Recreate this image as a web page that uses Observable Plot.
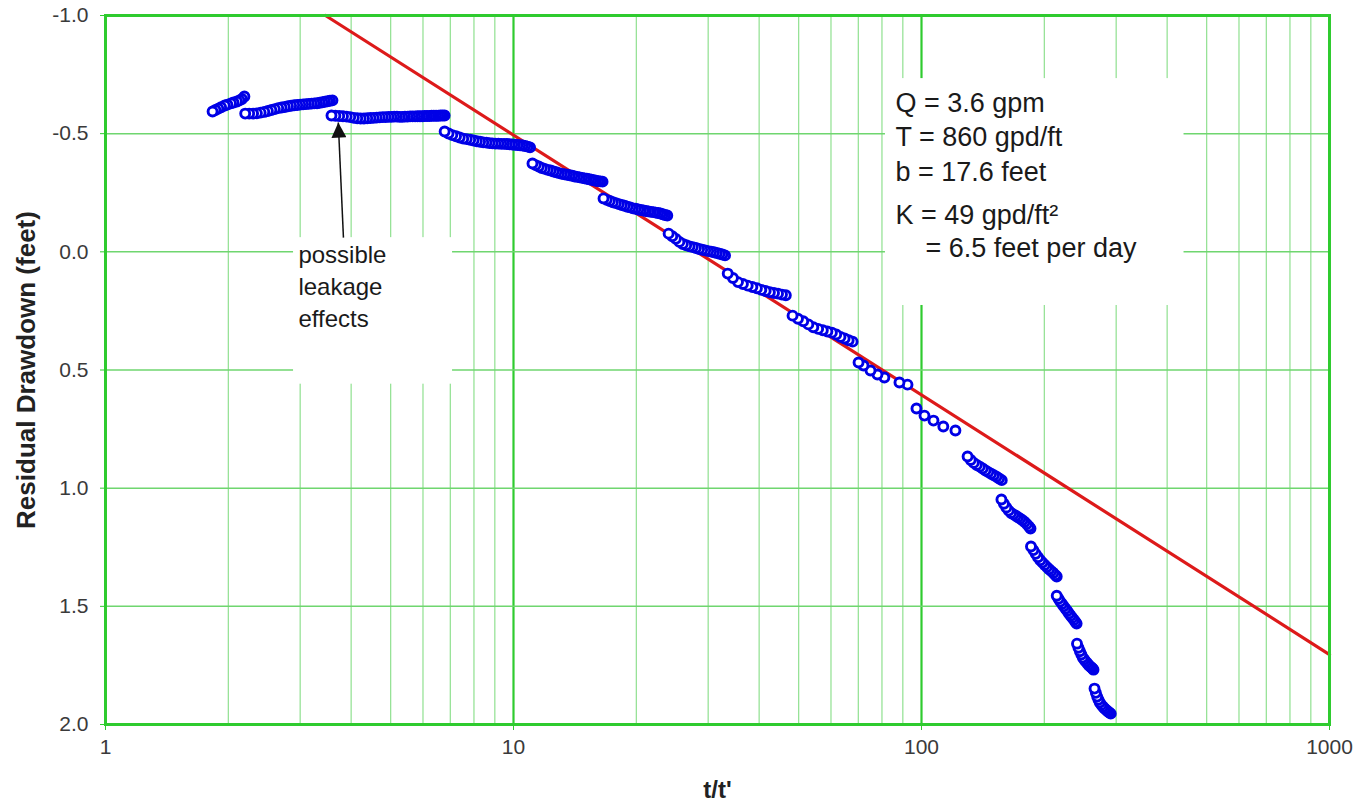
<!DOCTYPE html>
<html>
<head>
<meta charset="utf-8">
<script src="https://cdn.jsdelivr.net/npm/d3@7"></script>
<script src="https://cdn.jsdelivr.net/npm/@observablehq/plot@0.6"></script>
<style>
  html, body { margin: 0; padding: 0; background: #fff; }
  #chart { width: 1357px; height: 809px; }
</style>
</head>
<body>
<div id="chart"></div>
<script>
// ---- Data: recovery readings, t/t' vs residual drawdown (feet) ----
const rec1 = [[1.83,-0.594],[1.86,-0.600],[1.89,-0.606],[1.92,-0.612],[1.96,-0.619],[1.99,-0.623],[2.03,-0.628],[2.06,-0.632],[2.10,-0.636],[2.13,-0.641],[2.16,-0.647],[2.19,-0.657]];
const rec2 = [[2.20,-0.585],[2.25,-0.585],[2.30,-0.585],[2.35,-0.586],[2.40,-0.589],[2.45,-0.592],[2.50,-0.596],[2.55,-0.600],[2.60,-0.604],[2.65,-0.608],[2.70,-0.611],[2.75,-0.613],[2.80,-0.616],[2.85,-0.618],[2.90,-0.620],[2.95,-0.621],[3.00,-0.623],[3.05,-0.624],[3.10,-0.625],[3.15,-0.626],[3.20,-0.627],[3.25,-0.628],[3.30,-0.629],[3.35,-0.631],[3.40,-0.633],[3.45,-0.635],[3.50,-0.637],[3.55,-0.639],[3.60,-0.641]];
const rec3 = [[3.58,-0.577],[3.66,-0.576],[3.74,-0.575],[3.82,-0.574],[3.90,-0.572],[3.98,-0.570],[4.06,-0.567],[4.14,-0.565],[4.22,-0.564],[4.30,-0.564],[4.38,-0.565],[4.46,-0.566],[4.54,-0.567],[4.62,-0.568],[4.70,-0.569],[4.78,-0.570],[4.86,-0.570],[4.94,-0.571],[5.02,-0.571],[5.10,-0.572],[5.18,-0.572],[5.26,-0.571],[5.34,-0.571],[5.42,-0.572],[5.50,-0.572],[5.58,-0.573],[5.66,-0.573],[5.74,-0.573],[5.82,-0.574],[5.90,-0.574],[5.98,-0.574],[6.06,-0.575],[6.14,-0.575],[6.22,-0.575],[6.30,-0.576],[6.38,-0.576],[6.46,-0.576],[6.54,-0.576],[6.62,-0.577],[6.70,-0.577],[6.78,-0.577]];
const rec4 = [[6.78,-0.509],[6.93,-0.501],[7.08,-0.494],[7.23,-0.489],[7.38,-0.484],[7.53,-0.479],[7.68,-0.477],[7.83,-0.474],[7.98,-0.471],[8.13,-0.468],[8.28,-0.466],[8.43,-0.463],[8.58,-0.462],[8.73,-0.460],[8.88,-0.459],[9.03,-0.458],[9.18,-0.458],[9.33,-0.457],[9.48,-0.457],[9.63,-0.456],[9.78,-0.455],[9.93,-0.454],[10.08,-0.453],[10.23,-0.452],[10.38,-0.451],[10.53,-0.450],[10.68,-0.448],[10.83,-0.445],[10.98,-0.442]];
const rec5 = [[11.13,-0.374],[11.33,-0.367],[11.53,-0.361],[11.73,-0.355],[11.93,-0.351],[12.13,-0.347],[12.33,-0.344],[12.53,-0.340],[12.73,-0.337],[12.93,-0.333],[13.13,-0.330],[13.33,-0.328],[13.53,-0.326],[13.73,-0.324],[13.93,-0.322],[14.13,-0.319],[14.33,-0.317],[14.53,-0.315],[14.73,-0.313],[14.93,-0.311],[15.13,-0.309],[15.33,-0.307],[15.53,-0.305],[15.73,-0.303],[15.93,-0.301],[16.13,-0.299],[16.33,-0.298],[16.53,-0.297]];
const rec6 = [[16.62,-0.226],[16.92,-0.220],[17.22,-0.215],[17.52,-0.210],[17.82,-0.206],[18.12,-0.202],[18.42,-0.198],[18.72,-0.195],[19.02,-0.191],[19.32,-0.188],[19.62,-0.184],[19.92,-0.182],[20.22,-0.179],[20.52,-0.177],[20.82,-0.175],[21.12,-0.173],[21.42,-0.171],[21.72,-0.169],[22.02,-0.168],[22.32,-0.166],[22.62,-0.164],[22.92,-0.162],[23.22,-0.159],[23.52,-0.156],[23.82,-0.154]];
const rec7 = [[24.0,-0.077],[24.5,-0.066],[25.0,-0.055],[25.5,-0.042],[26.0,-0.033],[26.5,-0.028],[27.0,-0.023],[27.5,-0.020],[28.0,-0.016],[28.5,-0.012],[29.0,-0.009],[29.5,-0.006],[30.0,-0.003],[30.5,-0.001],[31.0,0.002],[31.5,0.005],[32.0,0.008],[32.5,0.011],[33.0,0.015]];
const rec8 = [[33.5,0.092],[34.5,0.111],[35.5,0.128],[36.5,0.136],[37.5,0.143],[38.5,0.149],[39.5,0.154],[40.5,0.161],[41.5,0.166],[42.5,0.171],[43.5,0.174],[44.5,0.177],[45.5,0.181],[46.5,0.184]];
const rec9 = [[48.3,0.270],[49.8,0.283],[51.3,0.294],[52.8,0.307],[54.3,0.319],[55.8,0.326],[57.3,0.332],[58.8,0.337],[60.3,0.342],[61.8,0.350],[63.3,0.360],[64.8,0.367],[66.3,0.374],[67.8,0.380]];
const rec10 = [[70.1,0.468],[72.1,0.481],[75.0,0.502],[78.0,0.519],[81.1,0.532],[88.3,0.553],[92.4,0.562],[97.2,0.663],[101.7,0.693],[107.0,0.714],[113.1,0.739],[121.1,0.756]];
const rec11 = [[129.7,0.866],[132.0,0.881],[134.3,0.893],[136.6,0.902],[138.9,0.909],[141.2,0.917],[143.5,0.925],[145.8,0.932],[148.1,0.939],[150.4,0.945],[152.7,0.952],[155.0,0.959],[157.3,0.966]];
const rec12 = [[157.0,1.048],[159.2,1.066],[161.4,1.082],[163.6,1.095],[165.8,1.105],[168.0,1.111],[170.2,1.117],[172.4,1.123],[174.6,1.129],[176.8,1.136],[179.0,1.143],[181.2,1.152],[183.4,1.162],[185.0,1.171]];
const rec13 = [[185.5,1.247],[188.0,1.262],[190.5,1.278],[193.0,1.292],[195.5,1.305],[198.0,1.315],[200.5,1.325],[203.0,1.334],[205.5,1.343],[208.0,1.351],[210.5,1.359],[213.0,1.368],[214.5,1.374]];
const rec14 = [[214.5,1.455],[216.7,1.468],[218.9,1.480],[221.1,1.490],[223.3,1.500],[225.5,1.510],[227.7,1.520],[229.9,1.530],[232.1,1.540],[234.3,1.549],[236.5,1.558],[238.7,1.567],[240.0,1.573]];
const rec15 = [[240.5,1.658],[242.5,1.675],[244.5,1.690],[246.5,1.704],[248.5,1.717],[250.5,1.725],[252.5,1.733],[254.5,1.740],[256.5,1.747],[258.5,1.753],[260.5,1.758],[262.5,1.763],[264.0,1.768]];
const rec16 = [[265.5,1.848],[267.5,1.866],[269.5,1.882],[271.5,1.895],[273.5,1.907],[276.0,1.917],[278.5,1.925],[281.0,1.932],[283.5,1.938],[286.0,1.944],[288.5,1.949],[291.0,1.954]];

// Straight-line (Theis recovery) fit, end points
const fitT = [3.46, 1000];
const fitS = [-1.0, 1.704];

// Axis ticks and grid
const xTicks = [1, 10, 100, 1000];
const xMinor = [2,3,4,5,6,7,8,9,20,30,40,50,60,70,80,90,200,300,400,500,600,700,800,900];
const xMajor = [10, 100];
const yTicks = [-1.0, -0.5, 0.0, 0.5, 1.0, 1.5, 2.0];
const yGrid = [-0.5, 0.0, 0.5, 1.0, 1.5];

// Annotations (data coordinates)
const paramLines = ["Q = 3.6 gpm", "T = 860 gpd/ft", "b = 17.6 feet", "K = 49 gpd/ft²", "= 6.5 feet per day"];
const paramX = [86.3, 86.3, 86.3, 86.3, 102.3];
const paramY = [-0.628, -0.484, -0.336, -0.154, -0.014];
const paramBox = {x1: 81.6, x2: 440, y1: -0.733, y2: 0.227};
const leakLines = ["possible", "leakage", "effects"];
const leakX = [2.97, 2.97, 2.97];
const leakY = [0.016, 0.151, 0.287];
const leakBox = {x1: 2.89, x2: 7.09, y1: -0.06, y2: 0.56};
const leakArrow = {x1: 3.83, y1: -0.06, x2: 3.72, y2: -0.547};

// Build tables
const segments = [rec1,rec2,rec3,rec4,rec5,rec6,rec7,rec8,rec9,rec10,rec11,rec12,rec13,rec14,rec15,rec16];
const points = segments.flat().map(([t, s]) => ({t, s}));
points.sort((a, b) => b.t - a.t); // plotted in time order (t/t' decreasing)
const fit = fitT.map((t, i) => ({t, s: fitS[i]}));
const params = paramLines.map((text, i) => ({text, x: paramX[i], y: paramY[i]}));
const leaks = leakLines.map((text, i) => ({text, x: leakX[i], y: leakY[i]}));

const GREEN = "#2fcb2f";
const FONT = "'Liberation Sans', Arial, Helvetica, sans-serif";

const chart = Plot.plot({
  width: 1357,
  height: 809,
  marginLeft: 105,
  marginRight: 28,
  marginTop: 15,
  marginBottom: 85,
  style: {fontFamily: FONT, background: "#fff"},
  x: {type: "log", domain: [1, 1000]},
  y: {domain: [-1, 2], reverse: true},
  marks: [
    Plot.ruleX(xMinor, {stroke: "#8fe08f", strokeWidth: 1.2}),
    Plot.ruleX(xMajor, {stroke: GREEN, strokeWidth: 2.2}),
    Plot.ruleY(yGrid, {stroke: "#6fd66f", strokeWidth: 1.5}),
    Plot.rect([paramBox], {x1: "x1", x2: "x2", y1: "y1", y2: "y2", fill: "#fff"}),
    Plot.rect([leakBox], {x1: "x1", x2: "x2", y1: "y1", y2: "y2", fill: "#fff"}),
    Plot.line(fit, {x: "t", y: "s", stroke: "#dd1a1a", strokeWidth: 3.2}),
    Plot.link([leakArrow], {x1: "x1", y1: "y1", x2: "x2", y2: "y2", stroke: "#111", strokeWidth: 1.5, className: "leak-arrow"}),
    Plot.dot(points, {x: "t", y: "s", r: 4.5, fill: "#fff", stroke: "#0000e6", strokeWidth: 2.9}),
    Plot.text(params, {x: "x", y: "y", text: "text", textAnchor: "start", fontSize: 27, fill: "#1a1a1a"}),
    Plot.text(leaks, {x: "x", y: "y", text: "text", textAnchor: "start", fontSize: 24, fill: "#1a1a1a"}),
    Plot.frame({stroke: GREEN, strokeWidth: 3}),
    Plot.axisX({ticks: xTicks, tickFormat: d => String(d), tickSize: 6, tickPadding: 9, stroke: GREEN, fontSize: 21, fill: "#3a3a3a", label: null}),
    Plot.axisY({ticks: yTicks, tickFormat: d => d.toFixed(1), tickSize: 5, tickPadding: 12, stroke: GREEN, fontSize: 21, fill: "#3a3a3a", label: null}),
    Plot.text(["Residual Drawdown (feet)"], {frameAnchor: "left", textAnchor: "middle", dx: -79, rotate: -90, fontSize: 26, fontWeight: "bold", fill: "#222"}),
    Plot.text(["t/t'"], {frameAnchor: "bottom", textAnchor: "middle", dy: 73, fontSize: 24, fontWeight: "bold", fill: "#222"})
  ]
});

// Filled arrowhead for the annotation pointer
const svg = d3.select(chart);
const defs = svg.insert("defs", ":first-child");
defs.append("marker")
  .attr("id", "leak-head")
  .attr("viewBox", "0 0 10 10")
  .attr("refX", 10).attr("refY", 5)
  .attr("markerWidth", 16).attr("markerHeight", 15)
  .attr("markerUnits", "userSpaceOnUse")
  .attr("orient", "auto")
  .append("path").attr("d", "M0,0L10,5L0,10Z").attr("fill", "#111");
svg.selectAll(".leak-arrow path, .leak-arrow line").attr("marker-end", "url(#leak-head)");

document.getElementById("chart").appendChild(chart);
</script>
</body>
</html>
